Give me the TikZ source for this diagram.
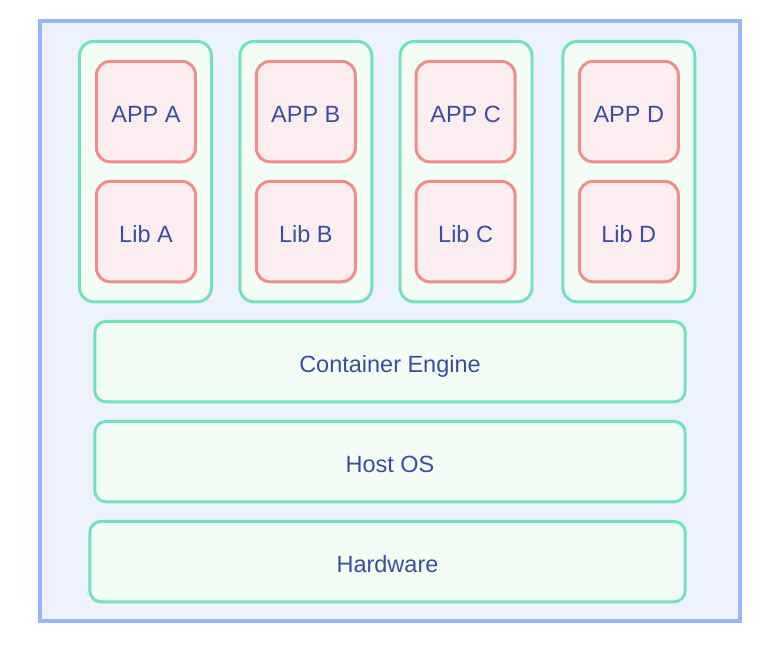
\documentclass[tikz,border=0pt]{standalone}
\usepackage{fontspec}
\setmainfont{Liberation Sans}
\usepackage{tikz}
\usetikzlibrary{positioning}
\usepackage{xcolor}

\definecolor{hostfill}{HTML}{EDF2FE}
\definecolor{hostline}{HTML}{96B6F5}
\definecolor{ctrfill}{HTML}{F3FDF6}
\definecolor{ctrline}{HTML}{72E1BE}
\definecolor{appfill}{HTML}{FCEDF0}
\definecolor{appline}{HTML}{EE8E87}
\definecolor{txt}{HTML}{3A4E9E}

\tikzset{
	box/.style = {line width=2.1pt, inner sep=0pt, text=txt,
		text height=14.8pt, text depth=0pt,
		font=\fontsize{16.7}{20}\selectfont},
	hostbox/.style = {box, draw=hostline, fill=hostfill, line width=2.4pt},
	ctrbox/.style = {box, draw=ctrline, fill=ctrfill, rounded corners=0.36cm,
		minimum width=3.3cm, minimum height=6.51cm},
	appbox/.style = {box, draw=appline, fill=appfill, rounded corners=0.34cm,
		minimum width=2.475cm, minimum height=2.51cm},
	layerbox/.style = {box, draw=ctrline, fill=ctrfill, rounded corners=0.28cm,
		minimum height=2.01cm}
}

\begin{document}
\begin{tikzpicture}
		\useasboundingbox (0cm,0cm) rectangle (19.15cm,-16.45cm);
		\draw (9.75cm,-8.025cm) node[hostbox, minimum width=17.5cm, minimum height=15cm] (host) {};
		
		% container groups
		\draw (3.6375cm,-4.29cm) node[ctrbox] (ctra) {}
		(7.645cm,-4.29cm) node[ctrbox] (ctrb) {}
		(11.65cm,-4.29cm) node[ctrbox] (ctrc) {}
		(15.72cm,-4.29cm) node[ctrbox] (ctrd) {};
		
		% apps and libs
		\draw (3.65cm,-2.79cm) node[appbox] (appa) {APP A}
		(3.65cm,-5.79cm) node[appbox] (liba) {Lib A}
		(7.645cm,-2.79cm) node[appbox] (appb) {APP B}
		(7.645cm,-5.79cm) node[appbox] (libb) {Lib B}
		(11.64cm,-2.79cm) node[appbox] (appc) {APP C}
		(11.64cm,-5.79cm) node[appbox] (libc) {Lib C}
		(15.72cm,-2.79cm) node[appbox] (appd) {APP D}
		(15.72cm,-5.79cm) node[appbox] (libd) {Lib D};
		
		% layers
		\draw (9.75cm,-9.04cm) node[layerbox, minimum width=14.76cm] (engine) {Container Engine}
		(9.75cm,-11.54cm) node[layerbox, minimum width=14.76cm] (os) {Host OS}
		(9.6875cm,-14.04cm) node[layerbox, minimum width=14.885cm] (hw) {Hardware};
	\end{tikzpicture}
\end{document}
